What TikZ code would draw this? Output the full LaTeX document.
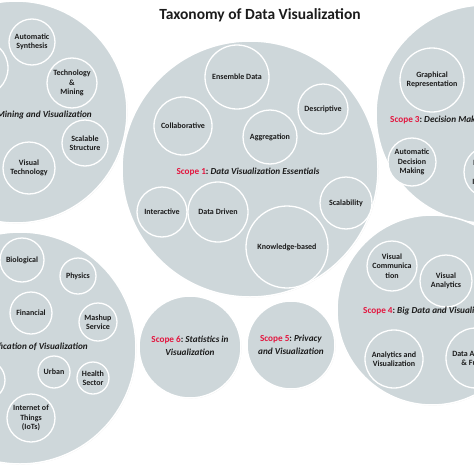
\documentclass[tikz,border=0pt]{standalone}
\usepackage{fontspec}
\setmainfont{Carlito}
\usetikzlibrary{shadows}

\definecolor{TaxoFill}{HTML}{CED7DA}
\definecolor{TaxoRed}{HTML}{E3163F}
\definecolor{TaxoText}{HTML}{1B1B1B}

\tikzstyle{scope-circle}=[circle, inner sep=0pt, fill=TaxoFill, draw=white, line width=1.5pt, drop shadow={opacity=0.18, shadow xshift=0.6pt, shadow yshift=-0.6pt}]
\tikzstyle{topic-circle}=[circle, inner sep=0pt, fill=TaxoFill, draw=white, line width=1.3pt, align=center, text=TaxoText, font=\fontsize{8}{9.3}\selectfont\bfseries]
\tikzstyle{scope-label}=[inner sep=0pt, align=center, text=TaxoText, font=\fontsize{9.2}{12.8}\selectfont\bfseries]

\newcommand{\scopetag}[1]{\textcolor{TaxoRed}{Scope #1}:~}

\begin{document}
\begin{tikzpicture}[x=1pt, y=-1pt]
  \useasboundingbox (0,0) rectangle (474,474);
  \clip (0,0) rectangle (474,474);

  \node (title) at (260,15) [font=\fontsize{15.5}{18}\selectfont\bfseries, text=TaxoText] {Taxonomy of Data Visualization};

  % big scope circles
  \node (scope:2) at (16,112)  [scope-circle, minimum size=222pt] {};
  \node (scope:7) at (20,348)  [scope-circle, minimum size=232pt] {};
  \node (scope:1) at (250,169) [scope-circle, minimum size=256pt] {};
  \node (scope:3) at (485,114) [scope-circle, minimum size=218pt] {};
  \node (scope:4) at (432,310) [scope-circle, minimum size=190pt] {};
  \node (scope:6) at (190,347) [scope-circle, minimum size=102pt] {};
  \node (scope:5) at (291,345) [scope-circle, minimum size=88pt] {};

  % scope 1
  \node (s1:ensemble)  at (237,77)  [topic-circle, minimum size=64pt] {Ensemble Data};
  \node (s1:collab)    at (183,126) [topic-circle, minimum size=58pt] {Collaborative};
  \node (s1:descr)     at (323,109) [topic-circle, minimum size=50pt] {Descriptive};
  \node (s1:aggr)      at (270,137) [topic-circle, minimum size=54pt] {Aggregation};
  \node (s1:inter)     at (162,212) [topic-circle, minimum size=50pt] {Interactive};
  \node (s1:driven)    at (218,212) [topic-circle, minimum size=60pt] {Data Driven};
  \node (s1:scal)      at (346,203) [topic-circle, minimum size=52pt] {Scalability};
  \node (s1:knowledge) at (287,247) [topic-circle, minimum size=82pt] {Knowledge-based};
  \node (label:1) at (248,172) [scope-label] {\scopetag{1}\textit{Data Visualization Essentials}};

  % scope 2
  \node (s2:hidden)    at (-20,68)  [topic-circle, minimum size=56pt] {};
  \node (s2:synth)     at (32,42)   [topic-circle, minimum size=46pt] {Automatic\\Synthesis};
  \node (s2:techmin)   at (72,83)   [topic-circle, minimum size=50pt] {Technology\\\&\\Mining};
  \node (s2:scalable)  at (85,143)  [topic-circle, minimum size=46pt] {Scalable\\Structure};
  \node (s2:vistech)   at (29,168)  [topic-circle, minimum size=52pt] {Visual\\Technology};
  \node (label:2) at (92,115) [scope-label, anchor=east] {\scopetag{2}\textit{Data Mining and Visualization}};

  % scope 3
  \node (s3:graph)     at (432,80)  [topic-circle, minimum size=64pt] {Graphical\\Representation};
  \node (s3:autodec)   at (412,162) [topic-circle, minimum size=48pt] {Automatic\\Decision\\Making};
  \node (s3:intel)     at (490,172) [topic-circle, minimum size=52pt] {Intelligent\\\&\\Interactive};
  \node (label:3) at (390,120) [scope-label, anchor=west] {\scopetag{3}\textit{Decision Making}};

  % scope 4
  \node (s4:viscomm)   at (392,266) [topic-circle, minimum size=50pt] {Visual\\Communica\\tion};
  \node (s4:visanal)   at (446,281) [topic-circle, minimum size=52pt] {Visual\\Analytics};
  \node (s4:analvis)   at (394,359) [topic-circle, minimum size=58pt] {Analytics and\\Visualization};
  \node (s4:fusion)    at (476,358) [topic-circle, minimum size=60pt] {Data Analytics\\\& Fusion};
  \node (label:4) at (363,311) [scope-label, anchor=west] {\scopetag{4}\textit{Big Data and Visualization}};

  % scope 5 and 6
  \node (label:6) at (190,346) [scope-label] {\scopetag{6}\textit{Statistics in}\\\textit{Visualization}};
  \node (label:5) at (291,345) [scope-label] {\scopetag{5}\textit{Privacy}\\\textit{and Visualization}};

  % scope 7
  \node (s7:bio)       at (22,260)  [topic-circle, minimum size=44pt] {Biological};
  \node (s7:phys)      at (78,276)  [topic-circle, minimum size=36pt] {Physics};
  \node (s7:fin)       at (31,313)  [topic-circle, minimum size=42pt] {Financial};
  \node (s7:mashup)    at (98,322)  [topic-circle, minimum size=38pt] {Mashup\\Service};
  \node (s7:hidden)    at (-15,380) [topic-circle, minimum size=40pt] {};
  \node (s7:urban)     at (54,372)  [topic-circle, minimum size=32pt] {Urban};
  \node (s7:health)    at (93,378)  [topic-circle, minimum size=32pt] {Health\\Sector};
  \node (s7:iot)       at (31,418)  [topic-circle, minimum size=48pt] {Internet of\\Things\\(IoTs)};
  \node (label:7) at (88,347) [scope-label, anchor=east] {\scopetag{7}\textit{Classification of Visualization}};
\end{tikzpicture}
\end{document}
